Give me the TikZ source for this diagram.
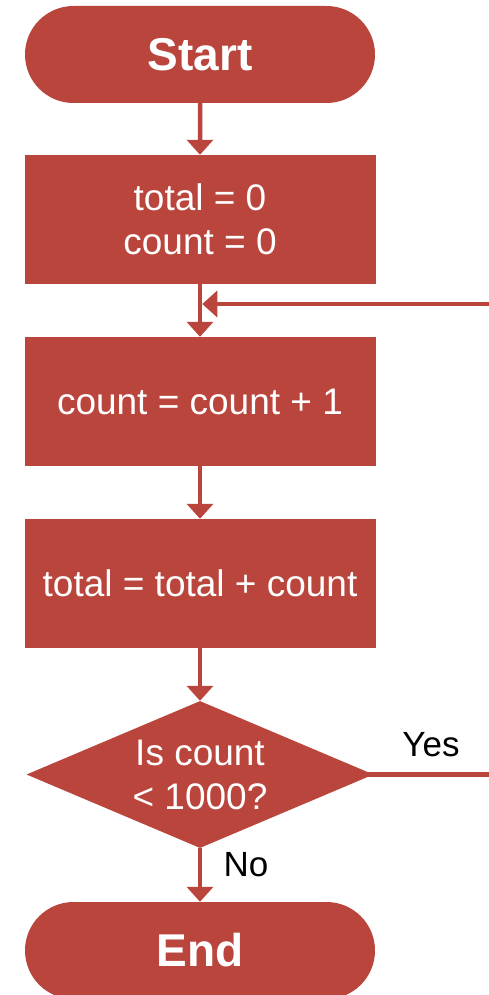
\documentclass[tikz,border=0pt]{standalone}
\usepackage{fontspec}
\setmainfont{Liberation Sans}
\usetikzlibrary{shapes.geometric,shapes.misc,arrows.meta}
\definecolor{brick}{RGB}{185,69,60}
\begin{document}
\begin{tikzpicture}[x=1pt,y=-1pt,
  block/.style={rectangle, fill=brick, draw=none, minimum width=351pt, minimum height=129pt,
    inner sep=0pt, text=white, align=center, font=\fontsize{37}{44}\selectfont},
  terminal/.style={rounded rectangle, fill=brick, draw=none, minimum width=350pt, minimum height=97pt,
    inner sep=0pt, text=white, font=\fontsize{46}{52}\selectfont\bfseries},
  decision/.style={diamond, fill=brick, draw=none, aspect=2.36, minimum width=347pt, minimum height=147pt,
    inner sep=0pt, text=white, align=center, font=\fontsize{37}{44}\selectfont},
  tag/.style={text=black, font=\fontsize{35}{40}\selectfont, inner sep=0pt},
  link/.style={draw=brick, line width=4.5pt},
  flow/.style={link, -{Triangle[width=26pt,length=15pt]}}]

\useasboundingbox (0,0) rectangle (489,995);

% steps of the loop
\node[terminal] (start) at (200,54.5) {Start};
\node[block] (init) at (200,219.5) {total = 0\\count = 0};
\node[block] (inc) at (200,401.5) {count = count + 1};
\node[block] (acc) at (200,583.5) {total = total + count};
\node[decision] (test) at (200,774.5) {Is count\\< 1000?};
\node[terminal] (stop) at (200,950.5) {End};

% return path enters and leaves at the right edge
\coordinate (merge) at (200,304);
\coordinate (backin) at (489,304);
\coordinate (backout) at (489,774.5);

% connectors
\draw[flow] (start) -- (init);
\draw[flow] (init) -- (inc);
\draw[flow] (inc) -- (acc);
\draw[flow] (acc) -- (test);
\draw[flow] (test) -- (stop);
\draw[flow, shorten >=2.25pt] (backin) -- (merge);
\draw[link, shorten <=-8pt] (test.east) -- (backout);

% branch labels
\node[tag] (yes) at (431,745) {Yes};
\node[tag] (no) at (246,865) {No};
\end{tikzpicture}
\end{document}
